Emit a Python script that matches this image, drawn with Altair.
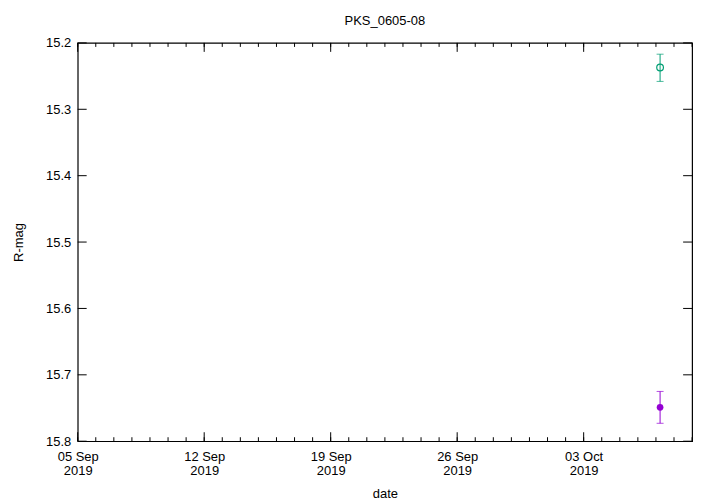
import altair as alt
import pandas as pd

# ---- data ----
chart_title = "PKS_0605-08"
obs_dates = ["2019-10-07T05:30:00Z", "2019-10-07T05:30:00Z"]
obs_series = ["filled", "open"]
obs_mag = [15.749, 15.237]
obs_lo = [15.725, 15.217]
obs_hi = [15.773, 15.258]
series_colors = ["#9400d3", "#009e73"]

major_dates = ["2019-09-05T00:00:00Z", "2019-09-12T00:00:00Z", "2019-09-19T00:00:00Z",
               "2019-09-26T00:00:00Z", "2019-10-03T00:00:00Z"]
minor_dates = [d.strftime("%Y-%m-%dT00:00:00Z") for d in pd.date_range("2019-09-05", "2019-10-09", freq="D")]
y_ticks = [15.2, 15.3, 15.4, 15.5, 15.6, 15.7, 15.8]

W, H = 617, 400
FONT = "Liberation Sans"

obs = pd.DataFrame({"date": obs_dates, "series": obs_series, "mag": obs_mag,
                    "lo": obs_lo, "hi": obs_hi})
major_df = pd.DataFrame({"date": major_dates})
minor_df = pd.DataFrame({"date": minor_dates})
ytick_df = pd.DataFrame({"mag": y_ticks})

xscale = alt.Scale(type="utc", domain=[alt.DateTime(year=2019, month=9, date=5, utc=True),
                                       alt.DateTime(year=2019, month=10, date=9, utc=True)])
yscale = alt.Scale(domain=[15.2, 15.8], reverse=True, zero=False, nice=False)

xaxis = alt.Axis(
    values=[alt.DateTime(year=2019, month=9, date=d, utc=True) for d in (5, 12, 19, 26)]
    + [alt.DateTime(year=2019, month=10, date=3, utc=True)],
    labelExpr="[utcFormat(datum.value, '%d %b'), utcFormat(datum.value, '%Y')]",
    labelLineHeight=14, labelPadding=9, labelFlush=False, labelOverlap=False,
    ticks=False, domain=False, grid=False, title="date",
    titleX=W / 2, titleY=53, titleBaseline="middle", titleAlign="center",
)
yaxis = alt.Axis(
    values=y_ticks, format=".1f", ticks=False, domain=False, grid=False,
    labelPadding=7, title="R-mag", titleAngle=270, titleX=-59, titleY=H / 2,
    titleBaseline="middle", titleAlign="center",
)


def X(field="date"):
    return alt.X(f"{field}:T", scale=xscale, axis=xaxis, title="date")


def Y(field="mag"):
    return alt.Y(f"{field}:Q", scale=yscale, axis=yaxis, title="R-mag")


color = alt.Color("series:N", scale=alt.Scale(domain=obs_series, range=series_colors), legend=None)

err = alt.Chart(obs).mark_rule(strokeWidth=1).encode(x=X(), y=Y("lo"), y2="hi", color=color)
cap_lo = alt.Chart(obs).mark_tick(orient="horizontal", size=7, thickness=1).encode(x=X(), y=Y("lo"), color=color)
cap_hi = alt.Chart(obs).mark_tick(orient="horizontal", size=7, thickness=1).encode(x=X(), y=Y("hi"), color=color)
filled_pts = alt.Chart(obs).transform_filter(alt.datum.series == "filled").mark_point(
    filled=True, size=45, opacity=1, shape="circle").encode(x=X(), y=Y(), color=color)
open_pts = alt.Chart(obs).transform_filter(alt.datum.series == "open").mark_point(
    filled=False, size=45, strokeWidth=1.2, opacity=1, shape="circle").encode(x=X(), y=Y(), color=color)

tick_style = dict(color="black", strokeWidth=1)
maj_bot = alt.Chart(major_df).mark_rule(**tick_style).encode(x=X(), y=alt.value(H), y2=alt.value(H - 9))
maj_top = alt.Chart(major_df).mark_rule(**tick_style).encode(x=X(), y=alt.value(0), y2=alt.value(9))
min_bot = alt.Chart(minor_df).mark_rule(**tick_style).encode(x=X(), y=alt.value(H), y2=alt.value(H - 4))
min_top = alt.Chart(minor_df).mark_rule(**tick_style).encode(x=X(), y=alt.value(0), y2=alt.value(4))
y_left = alt.Chart(ytick_df).mark_rule(**tick_style).encode(y=Y(), x=alt.value(0), x2=alt.value(9))
y_right = alt.Chart(ytick_df).mark_rule(**tick_style).encode(y=Y(), x=alt.value(W), x2=alt.value(W - 9))

chart = alt.layer(
    min_bot, min_top, maj_bot, maj_top, y_left, y_right,
    err, cap_lo, cap_hi, filled_pts, open_pts,
).properties(
    width=W, height=H,
    title=alt.TitleParams(chart_title, font=FONT, fontSize=13, fontWeight="normal",
                          color="black", anchor="middle", offset=9),
    autosize=alt.AutoSizeParams(type="none"),
    padding={"left": 70, "top": 34, "right": 20, "bottom": 62},
    background="white",
).configure_view(
    stroke="black", strokeWidth=1.2,
).configure_axis(
    labelFont=FONT, labelFontSize=13, labelColor="black",
    titleFont=FONT, titleFontSize=13, titleFontWeight="normal", titleColor="black",
)

chart.save("out.html", embed_options={"renderer": "svg", "actions": False})
